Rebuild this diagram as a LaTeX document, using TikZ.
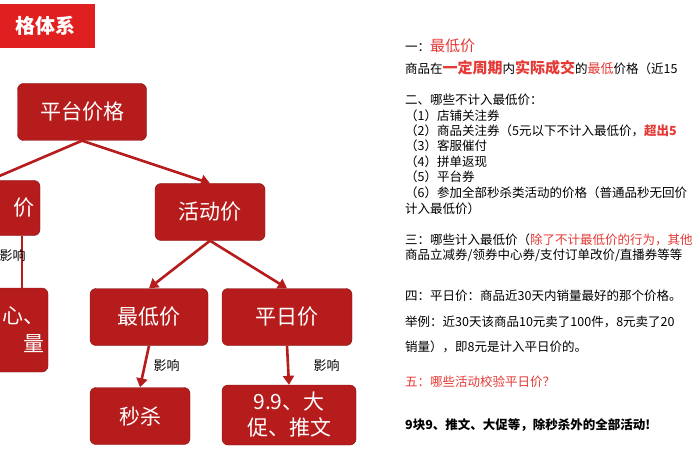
\documentclass[tikz,border=0pt]{standalone}
\usepackage{fontspec}
\setmainfont{Noto Sans CJK SC}
\usetikzlibrary{arrows.meta}
\definecolor{boxred}{HTML}{B71C1C}
\definecolor{txtred}{HTML}{E53935}
\definecolor{titred}{HTML}{E02020}
\tikzset{
 pbox/.style={draw=boxred!70!black,fill=boxred,rounded corners=6pt,text=white,font=\fontsize{21}{25}\selectfont,align=center,inner sep=0pt},
 arr/.style={draw=boxred,line width=2.6pt,-{Triangle[length=9pt,width=11pt]}},
 inf/.style={font=\fontsize{13}{15}\selectfont,anchor=west},
 rt/.style={font=\fontsize{12.5}{14}\selectfont,anchor=west,inner sep=0pt},
 hl/.style={text=txtred}
}
\begin{document}
\begin{tikzpicture}[x=1pt,y=-1pt]
\useasboundingbox (0,0) rectangle (700,470);
\clip (0,0) rectangle (700,470);
\fill[white] (0,0) rectangle (700,470);
% title
\fill[titred] (-5,4) rectangle (95,48);
\node[text=white,font=\fontsize{20}{24}\selectfont\bfseries] (title) at (45,26) {格体系};
% nodes
\node[pbox,minimum width=129pt,minimum height=57pt] (pt) at (82,112) {平台价格};
\node[pbox,minimum width=100pt,minimum height=55pt,text width=90pt,align=right] (lj) at (-10,208) {价};
\node[pbox,minimum width=110pt,minimum height=57pt] (hd) at (210,212) {活动价};
\node[pbox,minimum width=110pt,minimum height=84pt,text width=104pt,align=right,font=\fontsize{21}{28}\selectfont] (lb) at (-7,330) {心、\\量};
\node[pbox,minimum width=118pt,minimum height=57pt] (zd) at (149,317) {最低价};
\node[pbox,minimum width=130pt,minimum height=57pt] (pr) at (287,317) {平日价};
\node[pbox,minimum width=100pt,minimum height=57pt] (ms) at (140,416) {秒杀};
\node[pbox,minimum width=134pt,minimum height=60pt,font=\fontsize{21}{26}\selectfont] (jj) at (289,415) {9.9、大\\促、推文};
% arrows
\coordinate (lt) at (-10,180);
\draw[arr] (pt.south) -- (lt);
\draw[arr] (pt.south) -- (hd.north);
\draw[arr] (hd.south) -- (zd.north);
\draw[arr] (hd.south) -- (pr.north);
\draw[arr] (zd.south) -- (ms.north);
\draw[arr] (pr.south) -- (jj.north);
\draw[boxred,line width=2.6pt] (lj.south -| 22,0) -- (lb.north -| 22,0);
\node[inf] (y1) at (-4,256) {影响};
\node[inf] (y2) at (150,366) {影响};
\node[inf] (y3) at (310,366) {影响};
% right text
\node[rt] (r1) at (405,46) {一：\textcolor{txtred}{\fontsize{15}{17}\selectfont 最低价}};
\node[rt] (r2) at (405,68) {商品在\textcolor{txtred}{\fontsize{15}{17}\selectfont\bfseries 一定周期}内\textcolor{txtred}{\fontsize{15}{17}\selectfont\bfseries 实际成交}的\textcolor{txtred}{\fontsize{13}{15}\selectfont 最低}价格（近15};
\node[rt] (r3) at (405,100) {二、哪些不计入最低价：};
\node[rt] (r4) at (405,116) {（1）店铺关注券};
\node[rt] (r5) at (405,131) {（2）商品关注券（5元以下不计入最低价，\textcolor{txtred}{\bfseries 超出5}};
\node[rt] (r6) at (405,146) {（3）客服催付};
\node[rt] (r7) at (405,162) {（4）拼单返现};
\node[rt] (r8) at (405,177) {（5）平台券};
\node[rt] (r9) at (405,193) {（6）参加全部秒杀类活动的价格（普通品秒无回价};
\node[rt] (r10) at (405,209) {计入最低价）};
\node[rt] (r11) at (405,240) {三：哪些计入最低价（\textcolor{txtred}{除了不计最低价的行为，其他}};
\node[rt] (r12) at (405,255) {商品立减券/领券中心券/支付订单改价/直播券等等};
\node[rt] (r13) at (405,296) {四：平日价：商品近30天内销量最好的那个价格。};
\node[rt] (r14) at (405,322) {举例：近30天该商品10元卖了100件，8元卖了20};
\node[rt] (r15) at (405,347) {销量），即8元是计入平日价的。};
\node[rt,text=txtred] (r16) at (405,382) {五：哪些活动校验平日价？};
\node[rt,font=\fontsize{12.5}{14}\selectfont\bfseries] (r17) at (405,425) {9块9、推文、大促等，除秒杀外的全部活动!};
\end{tikzpicture}
\end{document}
